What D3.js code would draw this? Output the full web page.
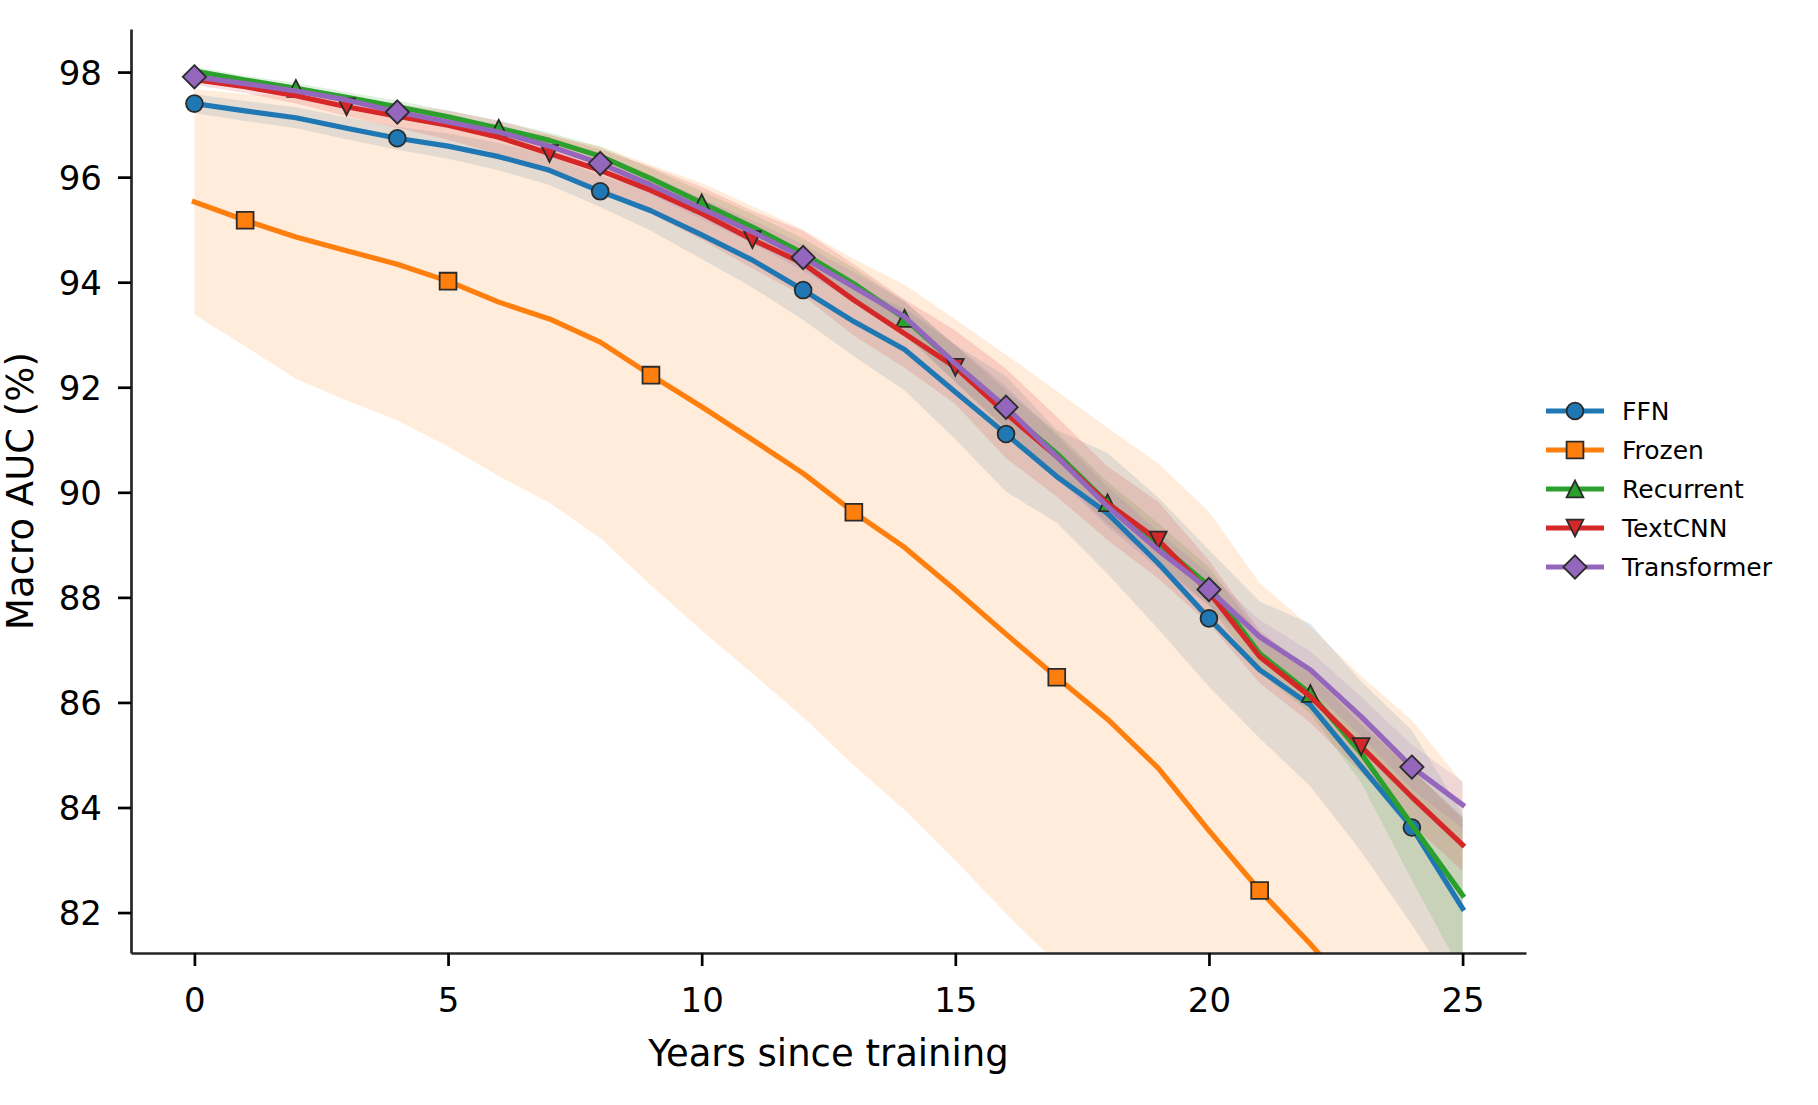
<!DOCTYPE html>
<html>
<head>
<meta charset="utf-8">
<script src="https://cdn.jsdelivr.net/npm/d3@7"></script>
<style>
  body { margin: 0; background: #fff; }
  svg { display: block; font-family: "DejaVu Sans", sans-serif; }
</style>
</head>
<body>
<div id="chart"></div>
<script>
// years since training (x categories)
const years = [0, 1, 2, 3, 4, 5, 6, 7, 8, 9, 10, 11, 12, 13, 14, 15, 16, 17, 18, 19, 20, 21, 22, 23, 24, 25];

// mean macro AUC per model
const ffnMean = [97.40, 97.26, 97.13, 96.93, 96.74, 96.59, 96.39, 96.13, 95.73, 95.36, 94.90, 94.42, 93.85,
    93.25, 92.72, 91.91, 91.11, 90.30, 89.60, 88.65, 87.60, 86.62, 85.95, 84.78, 83.62, 82.08];
const frozenMean = [95.53, 95.18, 94.86, 94.60, 94.34, 94.02, 93.62, 93.30, 92.86, 92.23, 91.63, 91.00, 90.36,
    89.62, 88.95, 88.14, 87.30, 86.48, 85.68, 84.75, 83.56, 82.42, 81.40, 80.30, 79.20, 78.00];
const recurrentMean = [98.02, 97.85, 97.69, 97.52, 97.34, 97.15, 96.93, 96.70, 96.40, 95.97, 95.51, 95.05, 94.55,
    93.97, 93.31, 92.45, 91.56, 90.74, 89.80, 89.03, 88.22, 86.93, 86.17, 85.03, 83.67, 82.33];
const textcnnMean = [97.86, 97.72, 97.55, 97.34, 97.16, 96.99, 96.76, 96.45, 96.13, 95.75, 95.31, 94.81, 94.36,
    93.66, 93.02, 92.38, 91.50, 90.68, 89.79, 89.09, 88.10, 86.87, 86.11, 85.16, 84.20, 83.29];
const transformerMean = [97.91, 97.78, 97.64, 97.47, 97.24, 97.05, 96.86, 96.59, 96.26, 95.85, 95.40, 94.96, 94.47,
    93.91, 93.34, 92.45, 91.62, 90.68, 89.73, 88.90, 88.15, 87.25, 86.62, 85.73, 84.77, 84.05];

// spread (half width of shaded band)
const ffnStd = [0.18, 0.19, 0.20, 0.21, 0.22, 0.24, 0.26, 0.28, 0.30, 0.38, 0.46, 0.52, 0.57,
    0.66, 0.78, 0.90, 1.10, 0.88, 1.15, 1.25, 1.30, 1.30, 1.55, 1.62, 1.85, 1.80];
const frozenStd = [2.15, 2.40, 2.70, 2.85, 2.97, 3.15, 3.31, 3.50, 3.73, 4.00, 4.26, 4.45, 4.64,
    4.82, 5.00, 5.15, 5.32, 5.45, 5.55, 5.80, 6.07, 5.85, 6.04, 6.20, 6.46, 6.47];
const recurrentStd = [0.08, 0.08, 0.10, 0.10, 0.12, 0.12, 0.14, 0.15, 0.18, 0.20, 0.22, 0.25, 0.28,
    0.30, 0.32, 0.35, 0.38, 0.40, 0.40, 0.38, 0.36, 0.36, 0.38, 0.56, 1.05, 1.50];
const textcnnStd = [0.10, 0.12, 0.15, 0.18, 0.22, 0.28, 0.32, 0.36, 0.40, 0.45, 0.50, 0.55, 0.62,
    0.68, 0.65, 0.70, 0.85, 0.76, 0.70, 0.73, 0.60, 0.50, 0.50, 0.50, 0.52, 0.50];
const transformerStd = [0.08, 0.08, 0.10, 0.10, 0.12, 0.12, 0.14, 0.15, 0.16, 0.18, 0.20, 0.22, 0.25,
    0.28, 0.30, 0.35, 0.40, 0.40, 0.38, 0.35, 0.30, 0.32, 0.35, 0.38, 0.42, 0.45];

const xTicks = [0, 5, 10, 15, 20, 25];
const yTicks = [82, 84, 86, 88, 90, 92, 94, 96, 98];

const series = [
    { name: "FFN", mean: ffnMean, std: ffnStd, color: "#1f77b4", marker: "circle", offset: 0 },
    { name: "Frozen", mean: frozenMean, std: frozenStd, color: "#ff7f0e", marker: "square", offset: 1 },
    { name: "Recurrent", mean: recurrentMean, std: recurrentStd, color: "#2ca02c", marker: "triUp", offset: 2 },
    { name: "TextCNN", mean: textcnnMean, std: textcnnStd, color: "#d62728", marker: "triDown", offset: 3 },
    { name: "Transformer", mean: transformerMean, std: transformerStd, color: "#9467bd", marker: "diamond", offset: 0 }
];

const width = 1818;
const height = 1105;
const plot = { left: 131, right: 1526, top: 29, bottom: 953 };

const x = d3.scaleLinear().domain([-1.25, 26.25]).range([plot.left, plot.right]);
const y = d3.scaleLinear().domain([81.23, 98.82]).range([plot.bottom, plot.top]);

const svg = d3.select("#chart").append("svg")
    .attr("width", width)
    .attr("height", height);

svg.append("rect").attr("width", width).attr("height", height).attr("fill", "#fff");

svg.append("clipPath").attr("id", "clip")
    .append("rect")
    .attr("x", plot.left).attr("y", plot.top)
    .attr("width", plot.right - plot.left).attr("height", plot.bottom - plot.top);

const plotArea = svg.append("g").attr("clip-path", "url(#clip)");

// marker shapes, size s ~ markersize in px
function markerPath(kind, s) {
    const h = s / 2;
    if (kind === "circle") {
        return `M${h},0A${h},${h} 0 1,1 ${-h},0A${h},${h} 0 1,1 ${h},0Z`;
    }
    if (kind === "square") return `M${-h},${-h}H${h}V${h}H${-h}Z`;
    if (kind === "triUp") return `M0,${-h}L${h},${h}L${-h},${h}Z`;
    if (kind === "triDown") return `M0,${h}L${h},${-h}L${-h},${-h}Z`;
    const d = s * Math.SQRT2 / 2 * 0.98;
    return `M0,${-d}L${d},0L0,${d}L${-d},0Z`;
}
const markerSize = 16.8;

// shaded bands first
const area = d3.area()
    .x(d => x(d.year))
    .y0(d => y(d.mean - d.std))
    .y1(d => y(d.mean + d.std));

series.forEach(s => {
    const rows = years.map((yr, i) => ({ year: yr, mean: s.mean[i], std: s.std[i] }));
    plotArea.append("path")
        .datum(rows)
        .attr("d", area)
        .attr("fill", s.color)
        .attr("fill-opacity", 0.15);
});

// lines and markers
const line = d3.line()
    .x(d => x(d.year))
    .y(d => y(d.mean));

series.forEach(s => {
    const rows = years.map((yr, i) => ({ year: yr, mean: s.mean[i] }));
    plotArea.append("path")
        .datum(rows)
        .attr("d", line)
        .attr("fill", "none")
        .attr("stroke", s.color)
        .attr("stroke-width", 5.2)
        .attr("stroke-linejoin", "round")
        .attr("stroke-linecap", "square");

    plotArea.selectAll(null)
        .data(rows.filter((d, i) => i >= s.offset && (i - s.offset) % 4 === 0))
        .enter()
        .append("path")
        .attr("transform", d => `translate(${x(d.year)},${y(d.mean)})`)
        .attr("d", markerPath(s.marker, markerSize))
        .attr("fill", s.color)
        .attr("stroke", "#2b2b2b")
        .attr("stroke-width", 1.8);
});

// axes
const xAxis = svg.append("g")
    .attr("transform", `translate(0,${plot.bottom})`)
    .call(d3.axisBottom(x).tickValues(xTicks).tickSize(13).tickSizeOuter(0).tickPadding(14));
const yAxis = svg.append("g")
    .attr("transform", `translate(${plot.left},0)`)
    .call(d3.axisLeft(y).tickValues(yTicks).tickSize(13).tickSizeOuter(0).tickPadding(16));

[xAxis, yAxis].forEach(ax => {
    ax.select(".domain").attr("stroke", "#262626").attr("stroke-width", 2.7);
    ax.selectAll(".tick line").attr("stroke", "#000").attr("stroke-width", 2.7);
    ax.selectAll(".tick text")
        .attr("fill", "#000")
        .style("font-size", "34px")
        .style("font-family", "DejaVu Sans, sans-serif");
});
xAxis.selectAll(".tick text").attr("dy", "0.93em");
yAxis.selectAll(".tick text").attr("dy", "0.36em");

// axis labels
svg.append("text")
    .attr("x", (plot.left + plot.right) / 2)
    .attr("y", 1066)
    .attr("text-anchor", "middle")
    .style("font-size", "37px")
    .text("Years since training");

svg.append("text")
    .attr("transform", `translate(33,${(plot.top + plot.bottom) / 2}) rotate(-90)`)
    .attr("text-anchor", "middle")
    .style("font-size", "37px")
    .text("Macro AUC (%)");

// legend
const legend = svg.append("g").attr("transform", "translate(1546,411)");
const legendRow = legend.selectAll("g")
    .data(series)
    .enter()
    .append("g")
    .attr("transform", (d, i) => `translate(0,${i * 39})`);

legendRow.append("line")
    .attr("x1", 0).attr("x2", 58)
    .attr("stroke", d => d.color)
    .attr("stroke-width", 5.2);

legendRow.append("path")
    .attr("transform", "translate(29,0)")
    .attr("d", d => markerPath(d.marker, markerSize))
    .attr("fill", d => d.color)
    .attr("stroke", "#2b2b2b")
    .attr("stroke-width", 1.8);

legendRow.append("text")
    .attr("x", 76)
    .attr("dy", "0.36em")
    .style("font-size", "25px")
    .text(d => d.name);
</script>
</body>
</html>
